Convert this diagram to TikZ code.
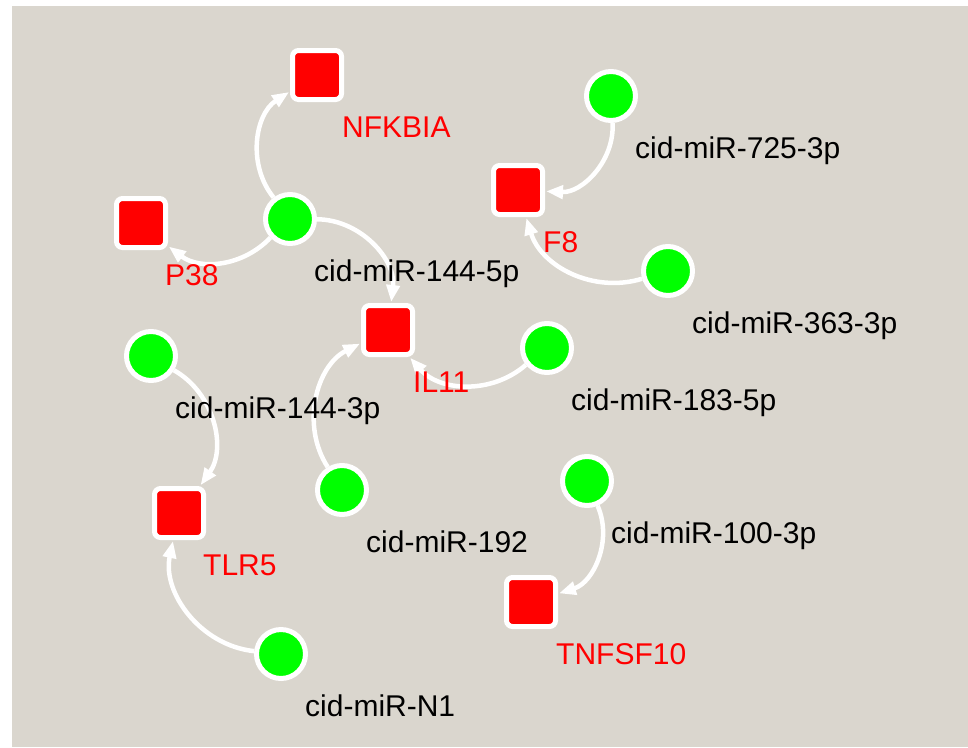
\documentclass[tikz,border=0pt]{standalone}
\usepackage{fontspec}
\setmainfont{Liberation Sans}
\usetikzlibrary{arrows.meta}
\definecolor{bgc}{HTML}{DAD6CE}
\definecolor{gred}{HTML}{FF0000}
\definecolor{mgreen}{HTML}{00FF00}
\tikzset{
  gene/.style={rectangle, rounded corners=6pt, fill=gred, draw=white, line width=5pt, minimum size=49pt, inner sep=0pt},
  mir/.style={circle, fill=mgreen, draw=white, line width=5pt, minimum size=49pt, inner sep=0pt},
  glabel/.style={anchor=base west, inner sep=0pt, text=gred, font=\fontsize{30}{36}\selectfont},
  mlabel/.style={anchor=base west, inner sep=0pt, text=black, font=\fontsize{30}{36}\selectfont},
  edge/.style={draw=white, line width=4.5pt, -{Triangle[length=17pt,width=13pt]}, shorten >=1pt}
}
\begin{document}
\begin{tikzpicture}[x=1pt,y=-1pt]
\useasboundingbox (0,0) rectangle (968,747);
\fill[white] (0,0) rectangle (968,747);
\fill[bgc] (12,6) rectangle (968,747);
% genes
\node[gene] (nfkbia) at (317,75) {};
\node[gene] (p38) at (141,223) {};
\node[gene] (il11) at (388,330) {};
\node[gene] (f8) at (518,190) {};
\node[gene] (tlr5) at (179,513) {};
\node[gene] (tnf) at (531,602) {};
% mirnas
\node[mir] (m1445) at (290,219) {};
\node[mir] (m725) at (611,96) {};
\node[mir] (m363) at (668,271) {};
\node[mir] (m183) at (547,348) {};
\node[mir] (m1443) at (151,356) {};
\node[mir] (m192) at (342,490) {};
\node[mir] (mn1) at (281,654) {};
\node[mir] (m100) at (587,481) {};
% edges
\draw[edge] (m1445) to[bend left=48] (nfkbia);
\draw[edge] (m1445) to[bend left=42] (p38);
\draw[edge] (m1445) to[bend left=48] (il11);
\draw[edge] (m725) to[bend left=48] (f8);
\draw[edge] (m363) to[bend left=45] (f8);
\draw[edge] (m183) to[bend left=45] (il11);
\draw[edge] (m192) to[bend left=48] (il11);
\draw[edge] (m1443) to[bend left=48] (tlr5);
\draw[edge] (mn1) to[bend left=48] (tlr5);
\draw[edge] (m100) to[bend left=48] (tnf);
% labels
\node[glabel] (lnfkbia) at (342,137) {NFKBIA};
\node[glabel] (lp38) at (165,285) {P38};
\node[glabel] (lil11) at (413,392) {IL11};
\node[glabel] (lf8) at (543,252) {F8};
\node[glabel] (ltlr5) at (203,575) {TLR5};
\node[glabel] (ltnf) at (556,664) {TNFSF10};
\node[mlabel] (l1445) at (314,281) {cid-miR-144-5p};
\node[mlabel] (l725) at (635,158) {cid-miR-725-3p};
\node[mlabel] (l363) at (692,333) {cid-miR-363-3p};
\node[mlabel] (l183) at (571,410) {cid-miR-183-5p};
\node[mlabel] (l1443) at (175,418) {cid-miR-144-3p};
\node[mlabel] (l192) at (366,552) {cid-miR-192};
\node[mlabel] (ln1) at (305,716) {cid-miR-N1};
\node[mlabel] (l100) at (611,543) {cid-miR-100-3p};
\end{tikzpicture}
\end{document}
